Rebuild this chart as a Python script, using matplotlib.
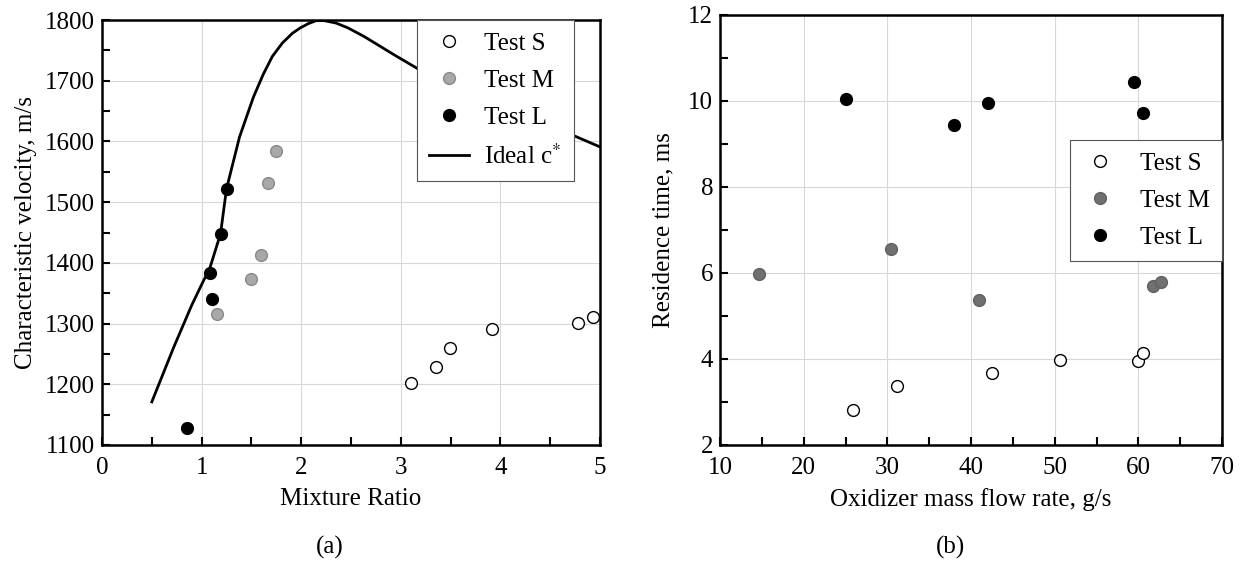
import matplotlib
matplotlib.use("Agg")
import matplotlib.pyplot as plt
from matplotlib.ticker import MultipleLocator

plt.rcParams['font.family'] = ['Liberation Serif', 'DejaVu Serif']
plt.rcParams['mathtext.fontset'] = 'stix'
plt.rcParams['font.size'] = 18

# (a) characteristic velocity vs mixture ratio
mr_S = [3.10, 3.35, 3.49, 3.92, 4.78, 4.93]
cs_S = [1202, 1229, 1259, 1291, 1301, 1310]
mr_M = [1.15, 1.50, 1.60, 1.67, 1.75]
cs_M = [1315, 1373, 1413, 1532, 1584]
mr_L = [0.85, 1.10, 1.08, 1.19, 1.25]
cs_L = [1128, 1341, 1384, 1448, 1522]

mr_ideal = [0.50, 0.72, 0.90, 1.02, 1.08, 1.19, 1.25, 1.38, 1.52, 1.62, 1.71,
            1.81, 1.91, 1.99, 2.07, 2.15, 2.23, 2.35, 2.47, 2.63, 2.94, 3.22,
            3.50, 4.00, 4.50, 4.73, 5.00]
cs_ideal = [1171, 1261, 1330, 1371, 1390, 1448, 1522, 1607, 1673, 1711, 1740,
            1762, 1778, 1787, 1794, 1799, 1799, 1795, 1787, 1773, 1742, 1715,
            1696, 1664, 1628, 1610, 1591]

# (b) residence time vs oxidizer mass flow rate
mdot_S = [25.9, 31.2, 42.5, 50.6, 60.0, 60.5]
tres_S = [2.81, 3.38, 3.68, 3.98, 3.95, 4.13]
mdot_M = [14.6, 30.4, 41.0, 61.8, 62.7]
tres_M = [5.97, 6.55, 5.38, 5.70, 5.78]
mdot_L = [25.0, 38.0, 42.0, 59.5, 60.5]
tres_L = [10.04, 9.44, 9.95, 10.43, 9.71]

fig = plt.figure(figsize=(12.41, 5.61), dpi=100)
ax1 = fig.add_axes([0.0822, 0.2068, 0.4013, 0.7575])
ax2 = fig.add_axes([0.5802, 0.2068, 0.4045, 0.7665])

ms = 8.5


def style(ax):
    for s in ax.spines.values():
        s.set_linewidth(1.8)
    ax.grid(True, which='major', color='#d8d8d8', linewidth=0.8)
    ax.set_axisbelow(True)
    ax.tick_params(which='both', direction='in', length=5.5, width=1.5,
                   top=False, right=False, labelsize=18)
    ax.tick_params(axis='x', which='both', pad=9)
    ax.tick_params(axis='y', which='both', pad=5)


ax1.plot(mr_ideal, cs_ideal, color='black', lw=2, label='Ideal c$^{*}$', zorder=3)
ax1.plot(mr_S, cs_S, 'o', mfc='white', mec='black', mew=1.0, ms=ms, ls='none',
         label='Test S', zorder=4)
ax1.plot(mr_M, cs_M, 'o', mfc='#a8a8a8', mec='#8a8a8a', mew=1.0, ms=ms, ls='none',
         label='Test M', zorder=4)
ax1.plot(mr_L, cs_L, 'o', mfc='black', mec='black', ms=ms, ls='none',
         label='Test L', zorder=4)
ax1.set_xlim(0, 5)
ax1.set_ylim(1100, 1800)
ax1.xaxis.set_major_locator(MultipleLocator(1))
ax1.xaxis.set_minor_locator(MultipleLocator(0.5))
ax1.yaxis.set_major_locator(MultipleLocator(100))
ax1.yaxis.set_minor_locator(MultipleLocator(50))
style(ax1)
ax1.set_xlabel('Mixture Ratio', fontsize=18, labelpad=6)
ax1.set_ylabel('Characteristic velocity, m/s', fontsize=18, labelpad=6)
h, l = ax1.get_legend_handles_labels()
order = [1, 2, 3, 0]
leg1 = ax1.legend([h[i] for i in order], [l[i] for i in order],
                  loc='upper right', bbox_to_anchor=(0.948, 1.0),
                  borderaxespad=0, fancybox=False, framealpha=1,
                  edgecolor='#555555', handlelength=1.6, handletextpad=0.6,
                  borderpad=0.5, labelspacing=0.58, fontsize=18)
leg1.get_frame().set_linewidth(0.8)

ax2.plot(mdot_S, tres_S, 'o', mfc='white', mec='black', mew=1.0, ms=ms, ls='none',
         label='Test S', zorder=4)
ax2.plot(mdot_M, tres_M, 'o', mfc='#707070', mec='#606060', mew=1.0, ms=ms, ls='none',
         label='Test M', zorder=4)
ax2.plot(mdot_L, tres_L, 'o', mfc='black', mec='black', ms=ms, ls='none',
         label='Test L', zorder=4)
ax2.set_xlim(10, 70)
ax2.set_ylim(2, 12)
ax2.xaxis.set_major_locator(MultipleLocator(10))
ax2.xaxis.set_minor_locator(MultipleLocator(5))
ax2.yaxis.set_major_locator(MultipleLocator(2))
ax2.yaxis.set_minor_locator(MultipleLocator(1))
style(ax2)
ax2.set_xlabel('Oxidizer mass flow rate, g/s', fontsize=18, labelpad=6)
ax2.set_ylabel('Residence time, ms', fontsize=18, labelpad=10)
leg2 = ax2.legend(loc='upper right', bbox_to_anchor=(1.0, 0.71),
                  borderaxespad=0, fancybox=False, framealpha=1,
                  edgecolor='#555555', handlelength=1.4, handletextpad=0.9,
                  borderpad=0.5, labelspacing=0.58, fontsize=18)
leg2.get_frame().set_linewidth(0.8)

fig.text(0.2660, 0.025, '(a)', ha='center', va='center', fontsize=18)
fig.text(0.7663, 0.025, '(b)', ha='center', va='center', fontsize=18)

fig.savefig('out.png', dpi=100)
